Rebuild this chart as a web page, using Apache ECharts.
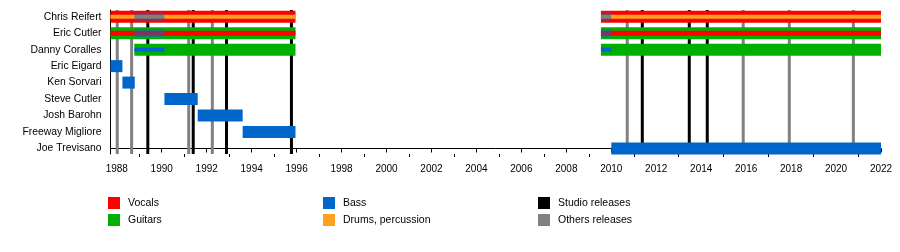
<!DOCTYPE html>
<html>
<head>
<meta charset="utf-8">
<script src="https://cdn.jsdelivr.net/npm/echarts@6/dist/echarts.min.js"></script>
<style>
html,body{margin:0;padding:0;background:#fff;}
#chart{width:900px;height:252px;}
</style>
</head>
<body>
<div id="chart"></div>
<script>
// ---- data ----
const members = ['Chris Reifert','Eric Cutler','Danny Coralles','Eric Eigard','Ken Sorvari','Steve Cutler','Josh Barohn','Freeway Migliore','Joe Trevisano'];
const yearStart = 1987.72;
const yearEnd = 2022;
const yearLabels = [1988,1990,1992,1994,1996,1998,2000,2002,2004,2006,2008,2010,2012,2014,2016,2018,2020,2022];
const yearMinor = [1989,1991,1993,1995,1997,1999,2001,2003,2005,2007,2009,2011,2013,2015,2017,2019,2021];

// main bars: [member, from, to]
const vocalsMain = [['Chris Reifert',1987.72,1995.95],['Chris Reifert',2009.54,2022]];
const guitarsMain = [['Eric Cutler',1987.72,1995.95],['Eric Cutler',2009.54,2022],
                     ['Danny Coralles',1988.78,1995.95],['Danny Coralles',2009.54,2022]];
const bassMain = [['Eric Eigard',1987.72,1988.25],['Ken Sorvari',1988.25,1988.8],
                  ['Steve Cutler',1990.12,1991.6],['Josh Barohn',1991.6,1993.6],
                  ['Freeway Migliore',1993.6,1995.95],['Joe Trevisano',2010,2022]];
// secondary roles
const drumsSecondary = [['Chris Reifert',1987.72,1995.95],['Chris Reifert',2009.54,2022]];
const vocalsSecondary = [['Eric Cutler',1987.72,1995.95],['Eric Cutler',2009.54,2022]];
const bassSecondary = [['Danny Coralles',1988.78,1990.12],['Danny Coralles',2009.54,2010]];
const bassShared = [['Chris Reifert',1988.78,1990.12],['Chris Reifert',2009.54,2010],
                    ['Eric Cutler',1988.78,1990.12],['Eric Cutler',2009.54,2010]];
// releases
const studioReleases = [1989.38,1991.4,1992.88,1995.77,2011.38,2013.47,2014.27];
const otherReleases = [1988.02,1988.66,1991.2,1992.25,2010.71,2015.87,2017.92,2020.77];

// ---- chart ----
const rowOf = name => members.length - 1 - members.indexOf(name);
const toData = arr => arr.map(d => [rowOf(d[0]), d[1], d[2]]);
const FONT = "'Liberation Sans', Arial, sans-serif";

function barSeries(name, data, color, h, z, opacity) {
  return {
    type: 'custom', name: name, z: z,
    itemStyle: {color: color},
    encode: {x: [1, 2], y: 0},
    data: toData(data),
    renderItem: function (params, api) {
      const y = api.value(0);
      const s = api.coord([api.value(1), y]);
      const e = api.coord([api.value(2), y]);
      return {type: 'rect',
        shape: {x: s[0], y: s[1] - h / 2, width: e[0] - s[0], height: h},
        style: {fill: color, opacity: opacity == null ? 1 : opacity}};
    }
  };
}
function lineSeries(name, data, color, z) {
  return {
    type: 'custom', name: name, z: z,
    itemStyle: {color: color},
    encode: {x: 0},
    data: data.map(v => [v, 0]),
    renderItem: function (params, api) {
      const p = api.coord([api.value(0), 0]);
      const cs = params.coordSys;
      return {type: 'line',
        shape: {x1: p[0], y1: cs.y, x2: p[0], y2: cs.y + cs.height},
        style: {stroke: color, lineWidth: 3}};
    }
  };
}

const legendBase = {
  orient: 'vertical', top: 197, itemWidth: 12, itemHeight: 12, itemGap: 5,
  icon: 'rect', padding: 0, selectedMode: false,
  textStyle: {fontSize: 10.5, color: '#000', fontFamily: FONT, padding: [0,0,0,3]}
};

const option = {
  animation: false,
  backgroundColor: '#fff',
  grid: {left: 110.5, right: 19, top: 10, bottom: 98},
  xAxis: [{
    type: 'value', min: yearStart, max: yearEnd,
    axisLine: {show: true, lineStyle: {color: '#000', width: 1}},
    axisTick: {show: true, customValues: yearLabels, length: 4, lineStyle: {color: '#000'}},
    axisLabel: {customValues: yearLabels, margin: 10, fontSize: 10, color: '#000', fontFamily: FONT,
      formatter: v => String(Math.round(v))},
    splitLine: {show: false}
  }, {
    type: 'value', min: yearStart, max: yearEnd, position: 'bottom',
    axisLine: {show: false},
    axisTick: {show: true, customValues: yearMinor, length: 3, lineStyle: {color: '#000'}},
    axisLabel: {show: false},
    splitLine: {show: false}
  }],
  yAxis: {
    type: 'value', min: -0.334, max: 8.407,
    axisLine: {show: true, lineStyle: {color: '#000', width: 1}},
    axisTick: {show: false},
    splitLine: {show: false},
    axisLabel: {customValues: members.map((m, i) => i), margin: 9, fontSize: 10.4, color: '#000',
      fontFamily: FONT, formatter: v => members[members.length - 1 - Math.round(v)]}
  },
  legend: [
    Object.assign({}, legendBase, {left: 108, data: ['Vocals', 'Guitars']}),
    Object.assign({}, legendBase, {left: 323, data: ['Bass', 'Drums, percussion']}),
    Object.assign({}, legendBase, {left: 538, data: ['Studio releases', 'Others releases']})
  ],
  series: [
    lineSeries('Studio releases', studioReleases, '#000000', 1),
    lineSeries('Others releases', otherReleases, '#808080', 1),
    barSeries('Vocals', vocalsMain, '#ff0000', 12, 2),
    barSeries('Guitars', guitarsMain, '#00b000', 12, 2),
    barSeries('Bass', bassMain, '#0066cc', 12, 2),
    barSeries('Drums, percussion', drumsSecondary, '#ffa020', 4, 3),
    barSeries('Vocals (secondary)', vocalsSecondary, '#ff0000', 5, 3),
    barSeries('Bass (secondary)', bassSecondary, '#0066cc', 4, 3),
    barSeries('Bass (shared)', bassShared, '#0066cc', 8, 4, 0.5)
  ]
};

const chart = echarts.init(document.getElementById('chart'), null, {renderer: 'canvas'});
chart.setOption(option);
</script>
</body>
</html>
